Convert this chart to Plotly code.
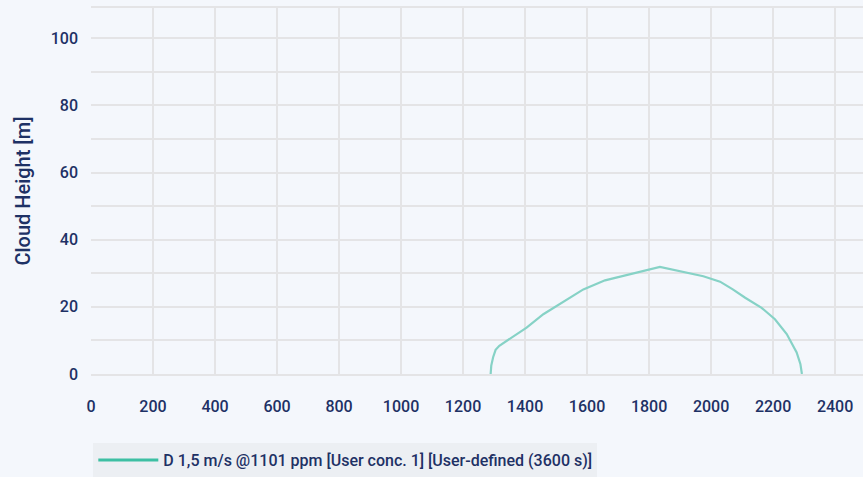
import plotly.graph_objects as go

# Cloud contour (downwind distance [m], cloud height [m])
distance = [1289, 1291, 1297, 1305, 1317, 1360, 1405, 1459, 1525, 1588, 1658, 1750, 1835,
            1975, 2029, 2070, 2110, 2163, 2206, 2244, 2276, 2288, 2293]
height = [0.0, 2.5, 5.0, 7.2, 8.4, 11.0, 13.8, 17.8, 21.5, 25.2, 27.9, 30.0, 31.9,
          29.1, 27.5, 25.2, 22.7, 19.7, 16.3, 11.9, 6.4, 3.0, 0.0]
series_name = "D 1,5 m/s @1101 ppm [User conc. 1] [User-defined (3600 s)]"
x_ticks = [0, 200, 400, 600, 800, 1000, 1200, 1400, 1600, 1800, 2000, 2200, 2400]
y_ticks = [0, 20, 40, 60, 80, 100]

navy = "#1e3165"
bg = "#f4f7fc"
grid = "#e4e4e6"
fam = "Roboto, sans-serif"

fig = go.Figure()
fig.add_trace(go.Scatter(x=distance, y=height, mode="lines", showlegend=False,
                         line=dict(color="#86d2c6", width=2.2), hoverinfo="x+y"))
fig.add_trace(go.Scatter(x=[None], y=[None], mode="lines", name=series_name,
                         line=dict(color="#3dbfa3", width=3)))

fig.update_layout(
    width=863, height=477,
    margin=dict(l=91, r=0, t=8, b=100),
    paper_bgcolor=bg, plot_bgcolor=bg,
    font=dict(family=fam, color=navy, size=16, weight=500),
    xaxis=dict(range=[0, 2490], tickvals=x_ticks, showgrid=True, gridcolor=grid, gridwidth=1.5,
               zeroline=False, showline=True, mirror=True, linecolor=grid, linewidth=1.5,
               ticks="", ticklabelstandoff=17,
               tickfont=dict(family=fam, size=16, color=navy, weight=500)),
    yaxis=dict(range=[0, 109], tickvals=y_ticks, showgrid=True, gridcolor=grid, gridwidth=1.5,
               minor=dict(dtick=10, showgrid=True, gridcolor=grid, gridwidth=1.5),
               zeroline=False, showline=False, ticks="", ticklabelstandoff=12,
               title=dict(text="Cloud Height [m]", font=dict(family=fam, size=20, color=navy, weight=500),
                          standoff=14),
               tickfont=dict(family=fam, size=16, color=navy, weight=500)),
    legend=dict(orientation="h", x=0.003, xanchor="left", y=-0.19, yanchor="top",
                bgcolor="#eceff3", font=dict(family=fam, size=16, color=navy, weight=500),
                itemwidth=60),
)

fig.write_html("out.html", config={"displayModeBar": False},
               post_script="document.body.style.margin='0';")
